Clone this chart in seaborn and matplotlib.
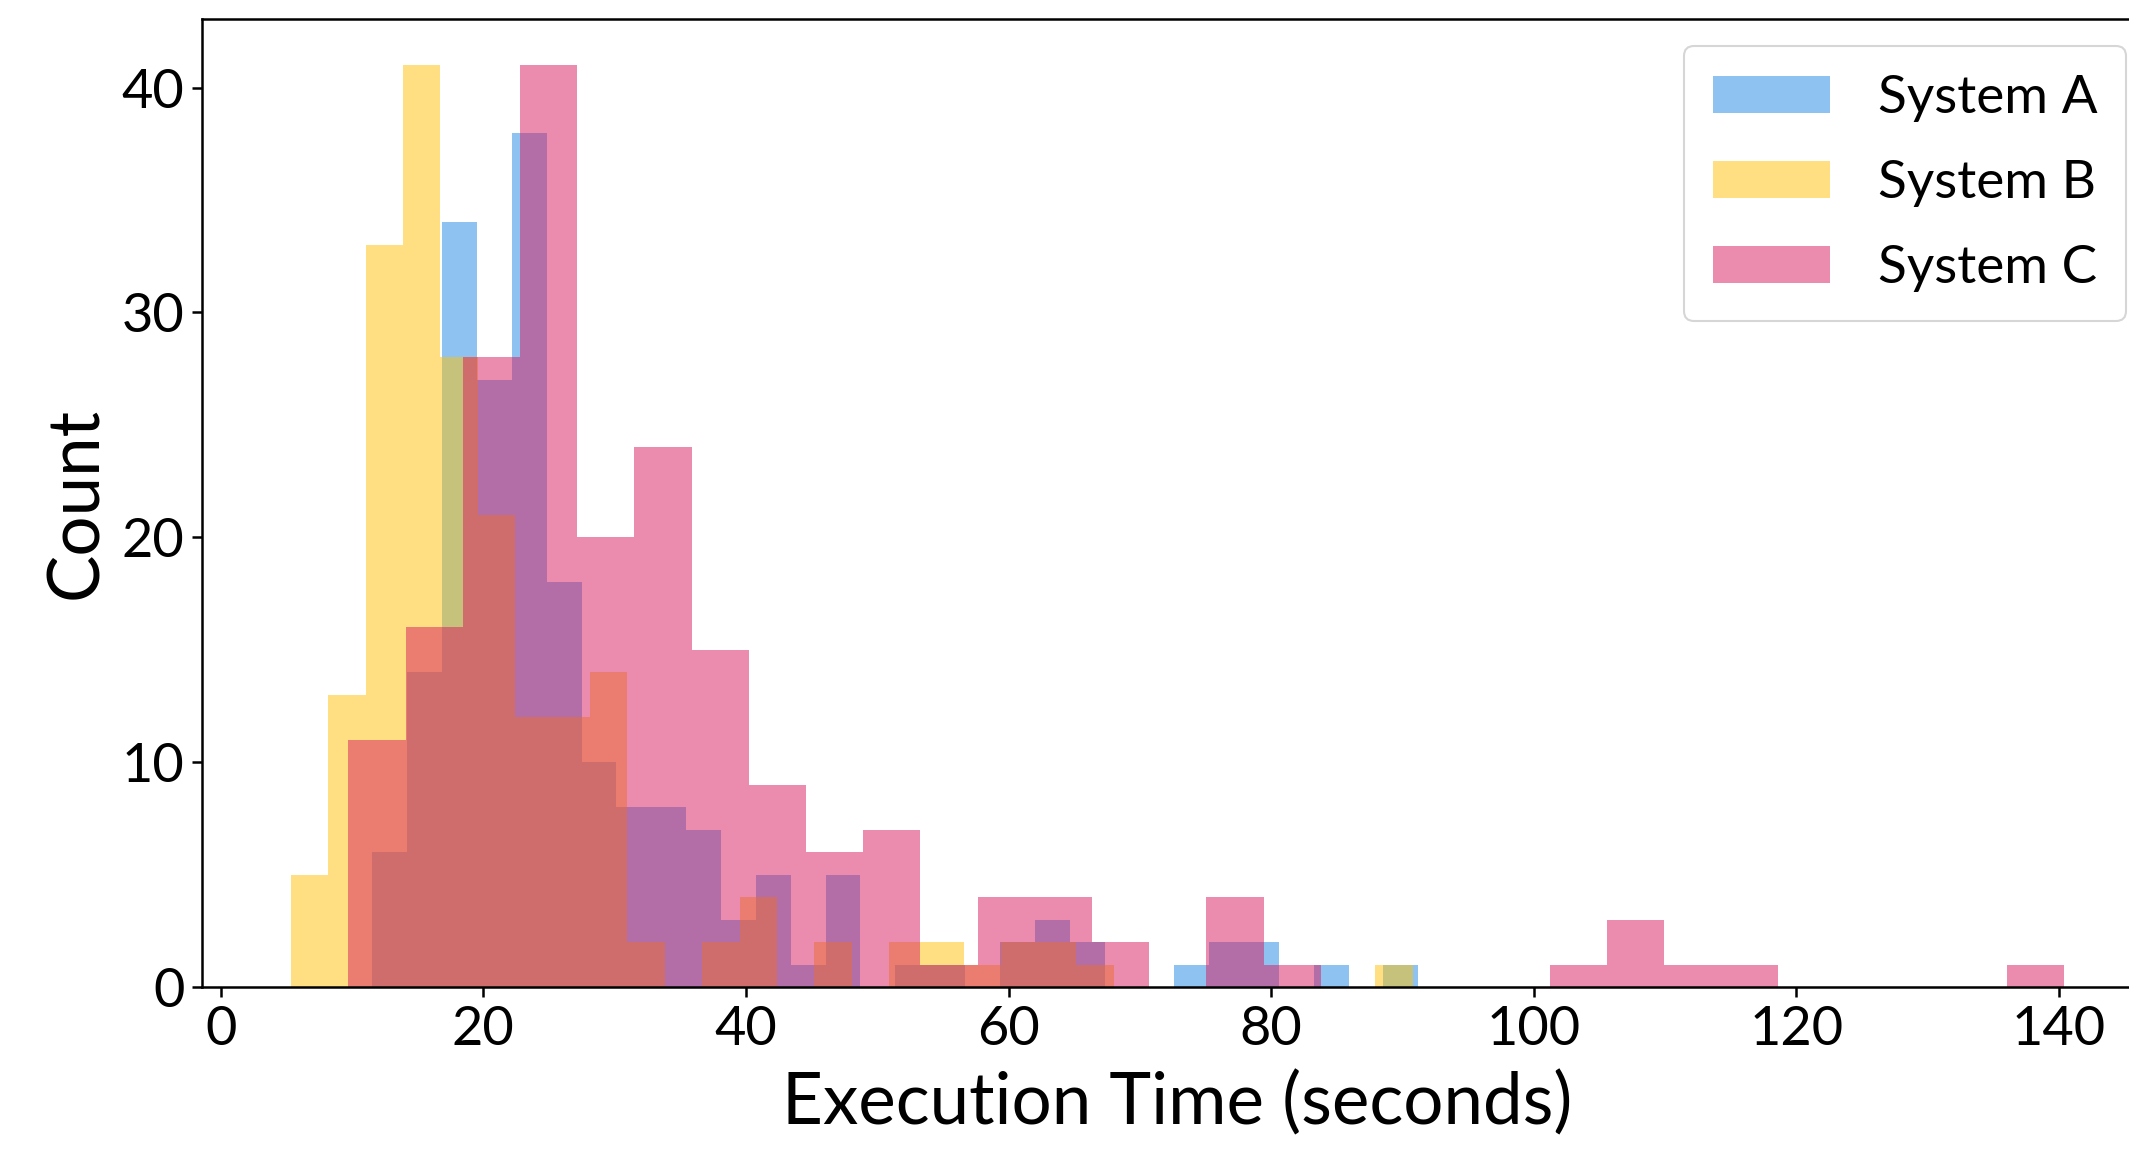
import numpy as np
import pandas as pd
import matplotlib
matplotlib.use("Agg")
import matplotlib.pyplot as plt
import seaborn as sns

# each system was binned on its own range into 30 bins
systems = ["System A", "System B", "System C"]
colors = ["#1E88E5", "#FFC107", "#D81B60"]

range_a = (11.55, 91.21)
range_b = (5.33, 90.80)
range_c = (9.72, 140.42)

counts_a = [6, 14, 34, 27, 38, 18, 10, 8, 8, 7, 3, 5, 1, 5, 0,
            1, 1, 0, 2, 3, 2, 0, 0, 1, 2, 2, 0, 1, 0, 1]
counts_b = [5, 13, 33, 41, 28, 21, 12, 12, 14, 2, 0, 2, 4, 0, 2,
            0, 2, 2, 1, 2, 2, 1, 0, 0, 0, 0, 0, 0, 0, 1]
counts_c = [11, 16, 28, 41, 20, 24, 15, 9, 6, 7, 1, 4, 4, 2, 0,
            4, 1, 0, 0, 0, 0, 1, 3, 1, 1, 0, 0, 0, 0, 1]

sns.set_style("ticks")
plt.rcParams["font.family"] = ["Lato", "DejaVu Sans"]
plt.rcParams["text.color"] = "black"
plt.rcParams["axes.labelcolor"] = "black"

fig = plt.figure(figsize=(2129 / 150, 1149 / 150), dpi=150)
# the right side of the axes runs past the figure edge, like in the original
ax = fig.add_axes([0.0949, 0.1410, 0.9164, 0.8425])

for name, col, rng, cnt in zip(systems, colors,
                               [range_a, range_b, range_c],
                               [counts_a, counts_b, counts_c]):
    edges = np.linspace(rng[0], rng[1], len(cnt) + 1)
    df = pd.DataFrame({"t": (edges[:-1] + edges[1:]) / 2, "n": cnt})
    sns.histplot(data=df, x="t", weights="n", bins=len(cnt), binrange=rng,
                 color=col, alpha=0.5, linewidth=0, label=name, ax=ax)

ax.set_xlabel("Execution Time (seconds)", fontsize=34, labelpad=8)
ax.set_ylabel("Count", fontsize=34, labelpad=6)
ax.set_yticks([0, 10, 20, 30, 40])
ax.tick_params(labelsize=26, length=5, width=1.2, colors="black")
for s in ax.spines.values():
    s.set_linewidth(1.2)
    s.set_color("black")

ax.legend(loc="upper right", fontsize=25.5, handlelength=2.2,
          handletextpad=0.9, labelspacing=0.72, borderpad=0.55)

fig.savefig("out.png", dpi=150)
